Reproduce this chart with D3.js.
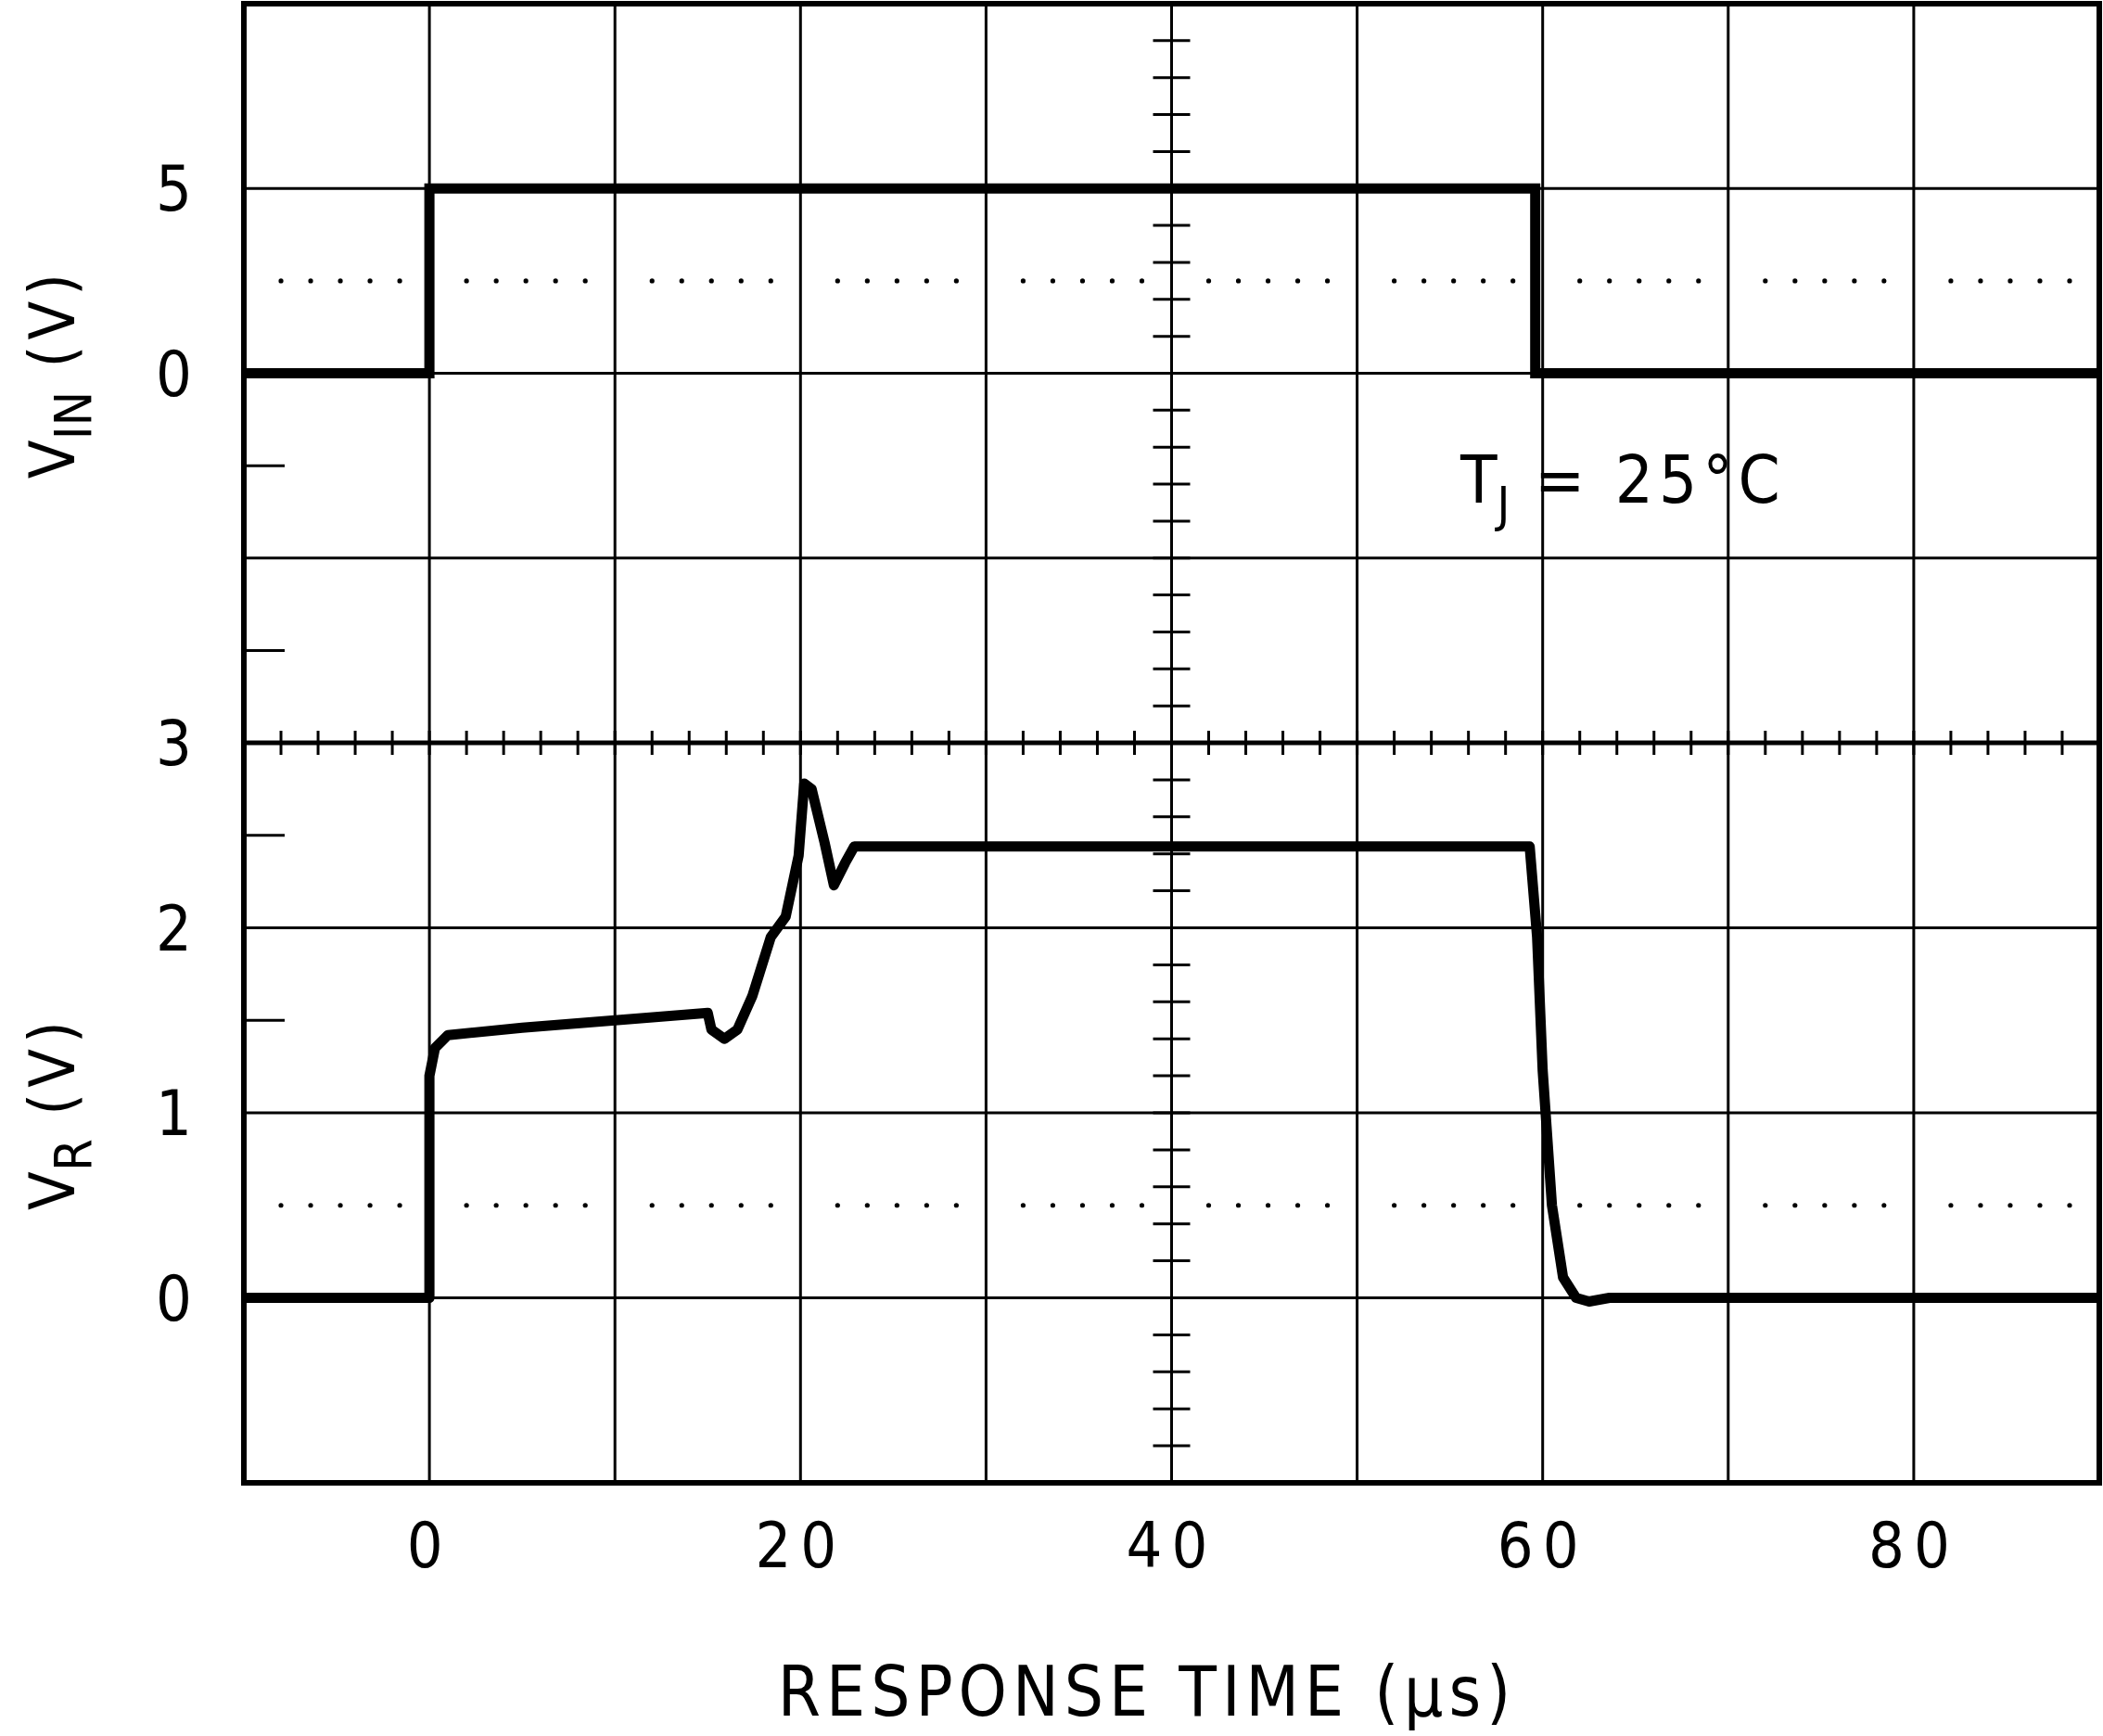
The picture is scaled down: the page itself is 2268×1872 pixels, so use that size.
<!DOCTYPE html>
<html><head><meta charset="utf-8">
<script src="https://cdn.jsdelivr.net/npm/d3@7"></script>
<style>body{margin:0;background:#fff}text{font-family:"DejaVu Sans Condensed","DejaVu Sans",sans-serif;fill:#000}</style>
</head><body><svg id="c" width="2268" height="1872"></svg>
<script>
var vinT = [-10, 0, 0, 59.6, 59.6, 90];
var vinV = [0, 0, 5, 5, 0, 0];
var vrT = [-10, 0, 0, 0.3, 1, 5, 10, 15, 15.2, 15.9, 16.6, 17.4, 18.4, 19.2, 19.9, 20.2, 20.6, 21.3, 21.8, 22.4, 22.9, 59.3, 59.7, 60, 60.5, 61.1, 61.8, 62.5, 63.6, 90];
var vrV = [0, 0, 1.2, 1.35, 1.42, 1.46, 1.5, 1.54, 1.45, 1.4, 1.45, 1.63, 1.95, 2.06, 2.39, 2.78, 2.75, 2.46, 2.23, 2.35, 2.44, 2.44, 1.95, 1.23, 0.5, 0.11, 0, -0.02, 0, 0];
var xTicks = [0, 20, 40, 60, 80];
var topTicks = [5, 0];
var botTicks = [3, 2, 1, 0];

var L = 263, R = 2264, T = 4, B = 1599, M = 801;
var svg = d3.select("#c");
var x = d3.scaleLinear().domain([-10, 90]).range([L, R]);
var yTop = d3.scaleLinear().domain([-10, 10]).range([M, T]);
var yBot = d3.scaleLinear().domain([-1, 3]).range([B, M]);
var g = svg.append("g");
var sw = 3;

// grid
d3.range(-10, 91, 10).forEach(function (t) {
    g.append("line").attr("x1", x(t)).attr("x2", x(t)).attr("y1", T).attr("y2", B).attr("stroke", "#000").attr("stroke-width", sw);
});
[10, 5, 0, -5].forEach(function (v) {
    g.append("line").attr("x1", L).attr("x2", R).attr("y1", yTop(v)).attr("y2", yTop(v)).attr("stroke", "#000").attr("stroke-width", sw);
});
[2, 1, 0].forEach(function (v) {
    g.append("line").attr("x1", L).attr("x2", R).attr("y1", yBot(v)).attr("y2", yBot(v)).attr("stroke", "#000").attr("stroke-width", sw);
});
// minor ticks on center axes
d3.range(-10, 90.1, 2).forEach(function (t) {
    g.append("line").attr("x1", x(t)).attr("x2", x(t)).attr("y1", M - 13).attr("y2", M + 13).attr("stroke", "#000").attr("stroke-width", sw);
});
d3.range(-10, 10.1, 1).forEach(function (v) {
    g.append("line").attr("x1", x(40) - 20).attr("x2", x(40) + 20).attr("y1", yTop(v)).attr("y2", yTop(v)).attr("stroke", "#000").attr("stroke-width", sw);
});
d3.range(-1, 3.01, 0.2).forEach(function (v) {
    g.append("line").attr("x1", x(40) - 20).attr("x2", x(40) + 20).attr("y1", yBot(v)).attr("y2", yBot(v)).attr("stroke", "#000").attr("stroke-width", sw);
});
// half-division ticks on left
[-2.5, -7.5].forEach(function (v) {
    g.append("line").attr("x1", L).attr("x2", L + 44).attr("y1", yTop(v)).attr("y2", yTop(v)).attr("stroke", "#000").attr("stroke-width", sw);
});
[2.5, 1.5].forEach(function (v) {
    g.append("line").attr("x1", L).attr("x2", L + 44).attr("y1", yBot(v)).attr("y2", yBot(v)).attr("stroke", "#000").attr("stroke-width", sw);
});
// dotted lines
var dotY = [yTop(2.5), yBot(0.5)];
dotY.forEach(function (yy) {
    d3.range(-10, 90, 10).forEach(function (c) {
        [2, 3.6, 5.2, 6.8, 8.4].forEach(function (o) {
            g.append("circle").attr("cx", x(c + o)).attr("cy", yy).attr("r", 2.6).attr("fill", "#000");
        });
    });
});
// frame
g.append("rect").attr("x", L).attr("y", T).attr("width", R - L).attr("height", B - T).attr("fill", "none").attr("stroke", "#000").attr("stroke-width", 6);
g.append("line").attr("x1", L).attr("x2", R).attr("y1", M).attr("y2", M).attr("stroke", "#000").attr("stroke-width", 5);

// traces
var lineTop = d3.line().x(function (d) { return x(d[0]); }).y(function (d) { return yTop(d[1]); });
var lineBot = d3.line().curve(d3.curveMonotoneX).x(function (d) { return x(d[0]); }).y(function (d) { return yBot(d[1]); });
svg.append("path").attr("d", lineTop(d3.zip(vinT, vinV))).attr("fill", "none").attr("stroke", "#000").attr("stroke-width", 11);
svg.append("path").attr("d", d3.line().x(function (d) { return x(d[0]); }).y(function (d) { return yBot(d[1]); })(d3.zip(vrT, vrV)))
    .attr("fill", "none").attr("stroke", "#000").attr("stroke-width", 11).attr("stroke-linejoin", "round");

// labels
var fs = 68;
xTicks.forEach(function (t) {
    svg.append("text").attr("x", x(t)).attr("y", 1690).attr("text-anchor", "middle").attr("font-size", fs).attr("letter-spacing", 10).text(t);
});
topTicks.forEach(function (v) {
    svg.append("text").attr("x", 207).attr("y", yTop(v) + 24).attr("text-anchor", "end").attr("font-size", fs).text(v);
});
botTicks.forEach(function (v) {
    svg.append("text").attr("x", 207).attr("y", yBot(v) + 24).attr("text-anchor", "end").attr("font-size", fs).text(v);
});
function ylab(cy, sub) {
    var t = svg.append("text").attr("transform", "translate(80," + cy + ") rotate(-90)").attr("text-anchor", "middle").attr("font-size", fs);
    t.append("tspan").text("V");
    t.append("tspan").attr("dy", 18).attr("font-size", 56).text(sub);
    t.append("tspan").attr("dy", -18).attr("letter-spacing", 6).text("  (V)");
}
ylab(yTop(0), "IN");
ylab(yBot(1), "R");
svg.append("text").attr("x", 1237).attr("y", 1850).attr("text-anchor", "middle").attr("font-size", 74).attr("letter-spacing", 6).text("RESPONSE TIME (µs)");
var tj = svg.append("text").attr("x", 1575).attr("y", 542).attr("font-size", 72);
tj.append("tspan").text("T");
tj.append("tspan").attr("dy", 20).attr("font-size", 52).text("J");
tj.append("tspan").attr("dy", -20).attr("letter-spacing", 6).text(" = 25°C");
</script></body></html>
